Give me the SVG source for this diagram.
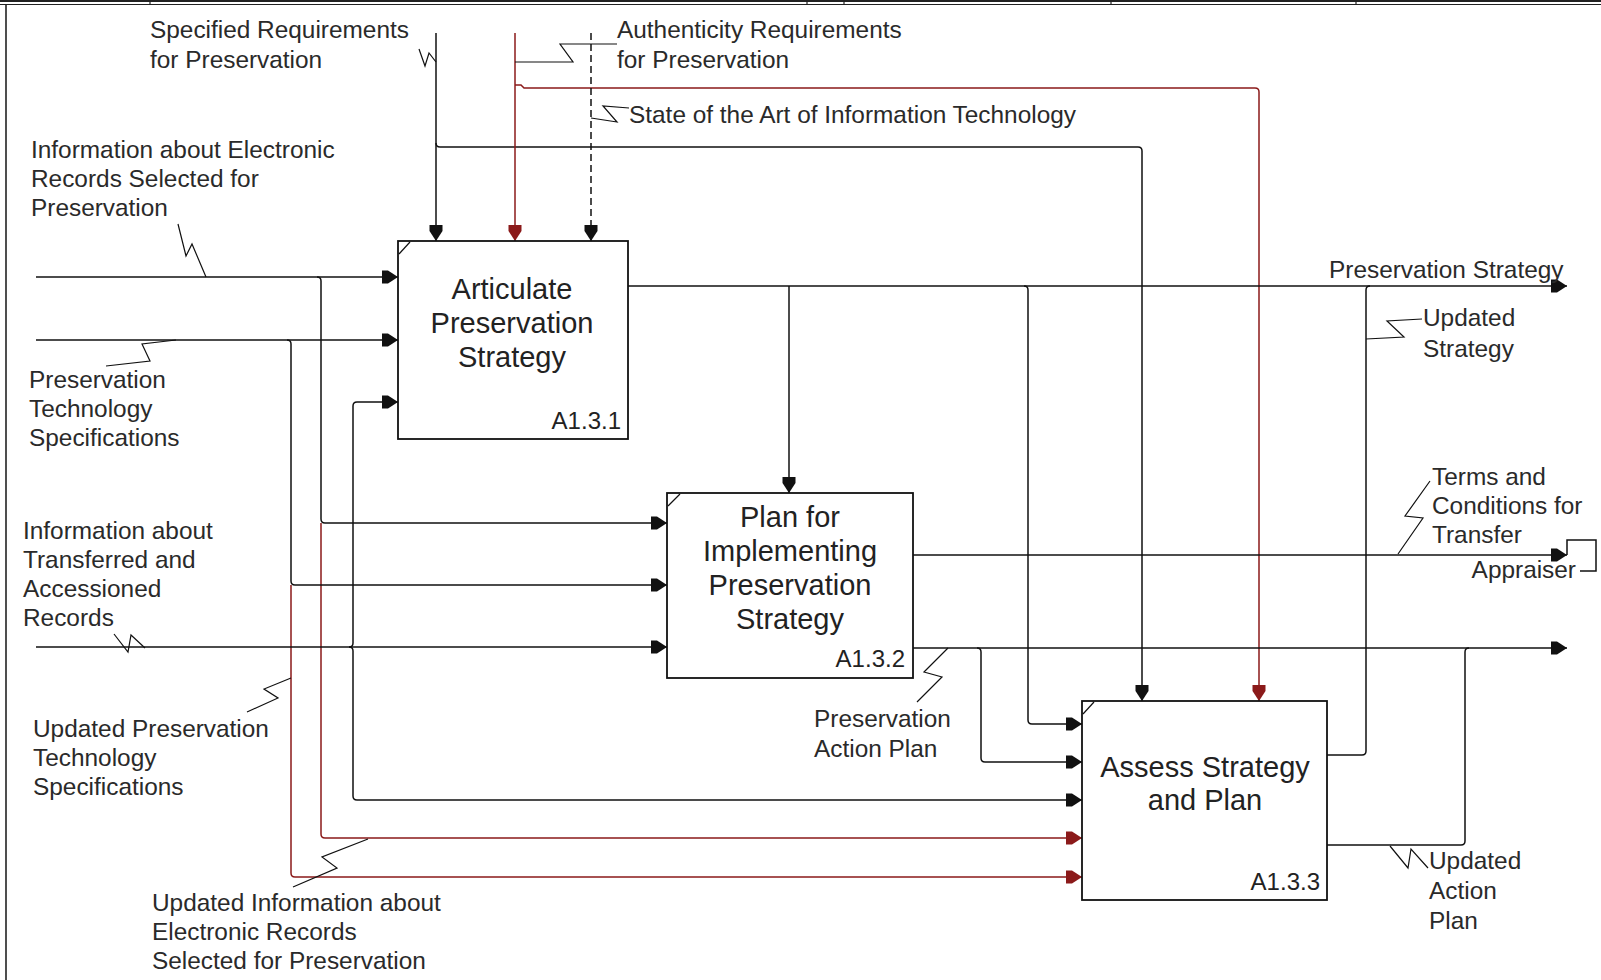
<svg xmlns="http://www.w3.org/2000/svg" width="1601" height="980" viewBox="0 0 1601 980">
<style>
.frame{stroke:#222;fill:none}
.ln{stroke:#111;stroke-width:1.5;fill:none}
.rd{stroke:#8b1a1a;stroke-width:1.5;fill:none}
.dash{stroke-dasharray:7 4}
.sq{stroke:#111;stroke-width:1.2;fill:none}
.box{fill:#fff;stroke:#111;stroke-width:1.8}
.crn{stroke:#111;stroke-width:1.2}
.lbl{font-family:"Liberation Sans",Arial,sans-serif;font-size:24.4px;fill:#2a2a2a}
.bt{font-family:"Liberation Sans",Arial,sans-serif;font-size:29px;fill:#222;text-anchor:middle}
.num{font-family:"Liberation Sans",Arial,sans-serif;font-size:24px;fill:#222;text-anchor:end}
.ab{marker-end:url(#ah)}
.ar{marker-end:url(#ahr)}
</style>
<defs>
<marker id="ah" viewBox="-17 -7 18 14" refX="0" refY="0" markerWidth="18" markerHeight="14" markerUnits="userSpaceOnUse" orient="auto">
<path d="M0 0 L-10 -6.5 L-16 -6.5 L-16 6.5 L-10 6.5 Z" fill="#111"/>
</marker>
<marker id="ahr" viewBox="-17 -7 18 14" refX="0" refY="0" markerWidth="18" markerHeight="14" markerUnits="userSpaceOnUse" orient="auto">
<path d="M0 0 L-10 -6.5 L-16 -6.5 L-16 6.5 L-10 6.5 Z" fill="#8b1a1a"/>
</marker>
</defs>
<rect width="1601" height="980" fill="#fff"/>
<g id="frame">
<path class="frame" stroke-width="2" d="M0 1 H1601"/>
<path class="frame" stroke-width="1.2" d="M0 4.5 H1601"/>
<path class="frame" stroke-width="1.2" d="M150 0 V5 M807 0 V5 M844 0 V5 M1111 0 V5 M1356 0 V5"/>
<path class="frame" stroke-width="1.6" d="M6 4 V980"/>
</g>
<g id="connectors">
<path class="ln ab" d="M436 33 V241"/>
<path class="ln ab" d="M436 143 Q436 147 440 147 H1138 Q1142 147 1142 151 V701"/>
<path class="rd ar" d="M515 33 V241"/>
<path class="rd ar" d="M515 85 H521 L524 88 H1255 Q1259 88 1259 92 V701"/>
<path class="ln dash" d="M591 33 V228"/>
<path class="ln ab" d="M591 228 V241"/>
<path class="ln ab" d="M36 277 H398"/>
<path class="ln ab" d="M317 277 Q321 277 321 281 V519 Q321 523 325 523 H667"/>
<path class="rd ar" d="M321 523 V834 Q321 838 325 838 H1082"/>
<path class="ln ab" d="M36 340 H398"/>
<path class="ln ab" d="M287 340 Q291 340 291 344 V581 Q291 585 295 585 H667"/>
<path class="rd ar" d="M291 585 V873 Q291 877 295 877 H1082"/>
<path class="ln ab" d="M36 647 H667"/>
<path class="ln ab" d="M349 647 Q353 647 353 643 V406 Q353 402 357 402 H398"/>
<path class="ln ab" d="M349 647 Q353 647 353 651 V796 Q353 800 357 800 H1082"/>
<path class="ln ab" d="M628 286 H1567"/>
<path class="ln ab" d="M789 286 V493"/>
<path class="ln ab" d="M1024 286 Q1028 286 1028 290 V720 Q1028 724 1032 724 H1082"/>
<path class="ln ab" d="M913 555 H1567"/>
<path class="ln" d="M1567 555 V540 H1596 V571 H1580"/>
<path class="ln ab" d="M913 648 H1567"/>
<path class="ln ab" d="M977 648 Q981 648 981 652 V758 Q981 762 985 762 H1082"/>
<path class="ln" d="M1327 755 H1362 Q1366 755 1366 751 V290 Q1366 286 1370 286"/>
<path class="ln" d="M1327 845 H1461 Q1465 845 1465 841 V652 Q1465 648 1469 648"/>
<path class="sq" d="M419 49 L425 66 L429 53 L436 62"/>
<path class="sq" d="M515 62 H573 L560 44 H617"/>
<path class="sq" d="M591 118 L617 122 L603 106 L629 108"/>
<path class="sq" d="M178 224 L186 256 L192 244 L206 277"/>
<path class="sq" d="M176 340 L142 344 L150 361 L106 366"/>
<path class="sq" d="M114 634 L128 652 L131 635 L145 648"/>
<path class="sq" d="M291 678 L264 689 L278 698 L247 712"/>
<path class="sq" d="M368 839 L322 857 L337 868 L293 887"/>
<path class="sq" d="M948 648 L924 672 L942 677 L917 702"/>
<path class="sq" d="M1366 339 L1404 337 L1387 321 L1422 319"/>
<path class="sq" d="M1430 481 L1405 516 L1423 518 L1398 554"/>
<path class="sq" d="M1390 846 L1408 868 L1411 849 L1428 868"/>
</g>
<g id="node-a131">
<rect class="box" x="398" y="241" width="230" height="198"/>
<path class="crn" d="M399 254 L410 242"/>
<text class="bt" x="512" y="299">Articulate</text>
<text class="bt" x="512" y="333">Preservation</text>
<text class="bt" x="512" y="367">Strategy</text>
<text class="num" x="621" y="429">A1.3.1</text>
</g>
<g id="node-a132">
<rect class="box" x="667" y="493" width="246" height="185"/>
<path class="crn" d="M668 506 L680 494"/>
<text class="bt" x="790" y="527">Plan for</text>
<text class="bt" x="790" y="561">Implementing</text>
<text class="bt" x="790" y="595">Preservation</text>
<text class="bt" x="790" y="629">Strategy</text>
<text class="num" x="905" y="667">A1.3.2</text>
</g>
<g id="node-a133">
<rect class="box" x="1082" y="701" width="245" height="199"/>
<path class="crn" d="M1083 714 L1094 702"/>
<text class="bt" x="1205" y="777">Assess Strategy</text>
<text class="bt" x="1205" y="810">and Plan</text>
<text class="num" x="1320" y="890">A1.3.3</text>
</g>
<g id="labels">
<text class="lbl" x="150" y="38">Specified Requirements</text>
<text class="lbl" x="150" y="68">for Preservation</text>
<text class="lbl" x="617" y="38">Authenticity Requirements</text>
<text class="lbl" x="617" y="68">for Preservation</text>
<text class="lbl" x="629" y="123">State of the Art of Information Technology</text>
<text class="lbl" x="31" y="158">Information about Electronic</text>
<text class="lbl" x="31" y="187">Records Selected for</text>
<text class="lbl" x="31" y="216">Preservation</text>
<text class="lbl" x="1329" y="278">Preservation Strategy</text>
<text class="lbl" x="1423" y="326">Updated</text>
<text class="lbl" x="1423" y="357">Strategy</text>
<text class="lbl" x="29" y="388">Preservation</text>
<text class="lbl" x="29" y="417">Technology</text>
<text class="lbl" x="29" y="446">Specifications</text>
<text class="lbl" x="1432" y="485">Terms and</text>
<text class="lbl" x="1432" y="514">Conditions for</text>
<text class="lbl" x="1432" y="543">Transfer</text>
<text class="lbl" x="1576" y="578" text-anchor="end">Appraiser</text>
<text class="lbl" x="23" y="539">Information about</text>
<text class="lbl" x="23" y="568">Transferred and</text>
<text class="lbl" x="23" y="597">Accessioned</text>
<text class="lbl" x="23" y="626">Records</text>
<text class="lbl" x="814" y="727">Preservation</text>
<text class="lbl" x="814" y="757">Action Plan</text>
<text class="lbl" x="33" y="737">Updated Preservation</text>
<text class="lbl" x="33" y="766">Technology</text>
<text class="lbl" x="33" y="795">Specifications</text>
<text class="lbl" x="1429" y="869">Updated</text>
<text class="lbl" x="1429" y="899">Action</text>
<text class="lbl" x="1429" y="929">Plan</text>
<text class="lbl" x="152" y="911">Updated Information about</text>
<text class="lbl" x="152" y="940">Electronic Records</text>
<text class="lbl" x="152" y="969">Selected for Preservation</text>
</g>
</svg>
